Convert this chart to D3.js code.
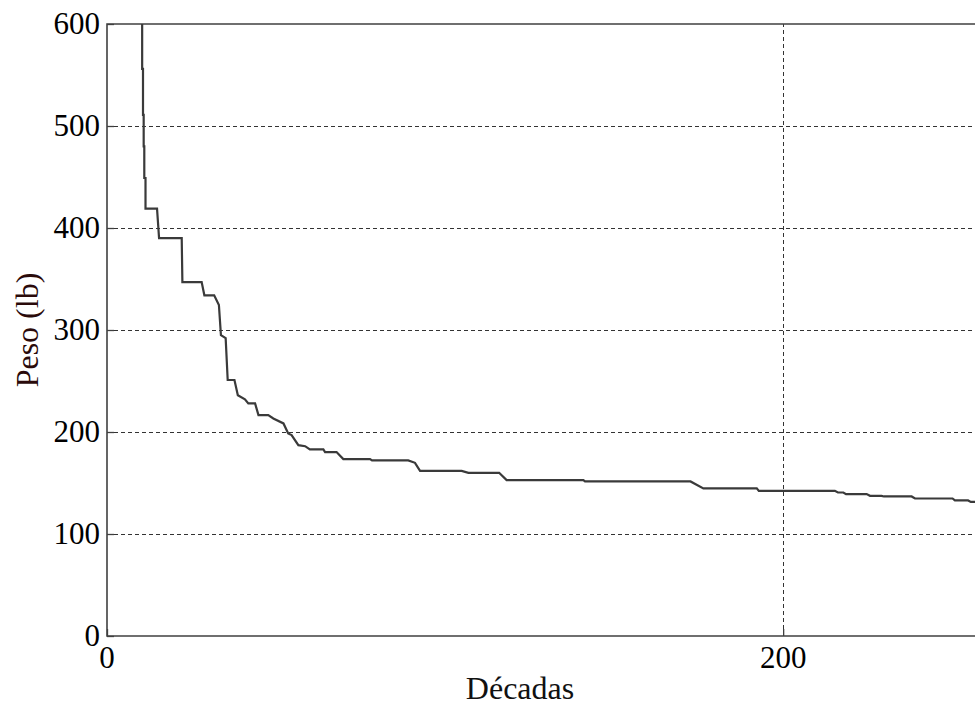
<!DOCTYPE html>
<html>
<head>
<meta charset="utf-8">
<script src="https://cdn.jsdelivr.net/npm/d3@7"></script>
<style>
  html, body { margin: 0; padding: 0; background: #fff; overflow: hidden; }
  svg { display: block; font-family: 'Liberation Serif', 'Times New Roman', serif; }
</style>
</head>
<body>
<div id="chart"></div>
<script>
// weight curve: [decade, weight in lb]
const decadas = [10.4, 10.4, 10.65, 10.65, 10.85, 10.85, 11.03, 11.03, 11.39, 11.39, 14.8, 15.4,
  22.1, 22.3, 28.0, 28.8, 31.7, 33.1, 33.7, 35.1, 35.7, 37.7, 38.7, 40.8, 41.8, 43.8, 44.8,
  47.7, 49.2, 52.2, 53.6, 54.6, 56.6, 58.6, 60.0, 64.0, 64.5, 67.9, 69.9, 77.8, 78.4, 89.1,
  91.1, 92.6, 104.9, 106.9, 116.0, 118.2, 140.9, 141.4, 172.6, 176.4, 192.2, 192.8, 215.3,
  216.2, 217.8, 218.6, 224.7, 225.7, 229.1, 229.8, 238.0, 239.0, 250.1, 250.8, 254.7, 255.5, 261]
const peso = [700, 556, 556, 511, 511, 480, 480, 449, 449, 419, 419, 390,
  390, 347, 347, 334, 334, 324.5, 295, 292, 251, 251, 236, 232, 228, 228, 216.6,
  216.6, 213.3, 208.4, 198.6, 197, 187.1, 186.1, 182.9, 182.9, 180.3, 180.3, 173.4, 173.4, 172.1, 172.1,
  169.8, 161.9, 161.9, 160, 160, 152.8, 152.8, 151.5, 151.5, 144.7, 144.7, 142.3, 142.3,
  140.7, 140.7, 139.1, 139.1, 137.4, 137.4, 136.8, 136.8, 134.8, 134.8, 132.9, 132.9, 131.5, 131.5]

const xTicks = [0, 200]
const yTicks = [0, 100, 200, 300, 400, 500, 600]
const xLabel = 'Décadas'
const yLabel = 'Peso (lb)'

const width = 975
const height = 706
const margin = { top: 24, left: 107, bottom: 70 }
const plotRight = 986  // the frame runs past the window edge, like the picture
const axisColor = '#404040'

const x = d3.scaleLinear().domain([0, 260]).range([margin.left, plotRight])
const y = d3.scaleLinear().domain([0, 600]).range([height - margin.bottom, margin.top])

const svg = d3.select('#chart').append('svg')
    .attr('width', width)
    .attr('height', height)

svg.append('defs').append('clipPath')
    .attr('id', 'plot-clip')
  .append('rect')
    .attr('x', x(0))
    .attr('y', y(600))
    .attr('width', x(260) - x(0))
    .attr('height', y(0) - y(600))

// dashed grid
const grid = svg.append('g')
grid.selectAll('line.h')
    .data(yTicks.filter(d => d > 0 && d < 600))
    .enter().append('line')
      .attr('class', 'h')
      .attr('x1', x(0)).attr('x2', plotRight)
      .attr('y1', d => Math.round(y(d)) + 0.5).attr('y2', d => Math.round(y(d)) + 0.5)
grid.selectAll('line.v')
    .data(xTicks.filter(d => d > 0))
    .enter().append('line')
      .attr('class', 'v')
      .attr('x1', d => Math.round(x(d)) + 0.5).attr('x2', d => Math.round(x(d)) + 0.5)
      .attr('y1', y(0)).attr('y2', y(600))
grid.selectAll('line')
    .attr('stroke', '#333')
    .attr('stroke-width', 1)
    .attr('stroke-dasharray', '4,3')

// axes with inward ticks
const yAxis = svg.append('g')
    .attr('transform', `translate(${x(0)},0)`)
    .call(d3.axisRight(y).tickValues(yTicks).tickSize(7).tickFormat(''))
const xAxis = svg.append('g')
    .attr('transform', `translate(0,${y(0)})`)
    .call(d3.axisTop(x).tickValues(xTicks).tickSize(7).tickFormat(''))
svg.selectAll('.domain').remove()
svg.selectAll('.tick line').attr('stroke', axisColor).attr('stroke-width', 1.3)

// frame: left, bottom, top
svg.append('path')
    .attr('d', `M${plotRight},${y(600)}H${x(0)}V${y(0)}H${plotRight}`)
    .attr('fill', 'none')
    .attr('stroke', axisColor)
    .attr('stroke-width', 1.6)

// tick labels
svg.append('g').selectAll('text')
    .data(yTicks)
    .enter().append('text')
      .attr('x', x(0) - 7)
      .attr('y', d => y(d) + 10)
      .attr('text-anchor', 'end')
      .attr('font-size', 31)
      .attr('fill', '#000')
      .text(d => d)
svg.append('g').selectAll('text')
    .data(xTicks)
    .enter().append('text')
      .attr('x', d => x(d))
      .attr('y', y(0) + 32)
      .attr('text-anchor', 'middle')
      .attr('font-size', 31)
      .attr('fill', '#000')
      .text(d => d)

// axis labels
svg.append('text')
    .attr('x', 520)
    .attr('y', 699)
    .attr('text-anchor', 'middle')
    .attr('font-size', 32)
    .attr('fill', '#111')
    .text(xLabel)
svg.append('text')
    .attr('transform', `translate(38,${330}) rotate(-90)`)
    .attr('text-anchor', 'middle')
    .attr('font-size', 32)
    .attr('fill', '#2a0a0a')
    .text(yLabel)

// the curve
const points = decadas.map((d, i) => [d, peso[i]])
const line = d3.line()
    .x(d => x(d[0]))
    .y(d => y(d[1]))

svg.append('path')
    .datum(points)
    .attr('clip-path', 'url(#plot-clip)')
    .attr('d', line)
    .attr('fill', 'none')
    .attr('stroke', '#3a3a3a')
    .attr('stroke-width', 2.2)
    .attr('stroke-linejoin', 'miter')
</script>
</body>
</html>
